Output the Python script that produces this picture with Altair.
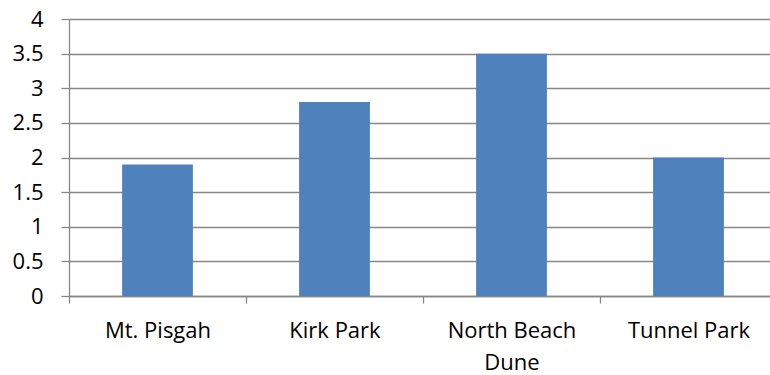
import altair as alt
import pandas as pd

sites = ["Mt. Pisgah", "Kirk Park", "North Beach Dune", "Tunnel Park"]
values = [1.9, 2.8, 3.5, 2.0]
y_ticks = [0, 0.5, 1, 1.5, 2, 2.5, 3, 3.5, 4]

df = pd.DataFrame({"site": sites, "value": values})

FONT = "Open Sans"
GRAY = "#878787"

chart = alt.Chart(df).mark_bar(
    color="#4F81BD", width=alt.RelativeBandSize(0.4)
).encode(
    x=alt.X(
        "site:N",
        sort=sites,
        scale=alt.Scale(paddingInner=0, paddingOuter=0, range=[0, 708]),
        axis=alt.Axis(
            title=None,
            labelAngle=0,
            tickBand="extent",
            tickSize=7,
            tickColor=GRAY,
            tickWidth=1.3,
            domainColor=GRAY,
            domainWidth=1.3,
            labelFont=FONT,
            labelFontSize=22,
            labelColor="#000000",
            labelPadding=17,
            labelLineHeight=32,
            labelExpr="datum.label == 'North Beach Dune' ? ['North Beach', 'Dune'] : datum.label",
            labelLimit=300,
        ),
    ),
    y=alt.Y(
        "value:Q",
        scale=alt.Scale(domain=[0, 4], nice=False),
        axis=alt.Axis(
            title=None,
            values=y_ticks,
            format=".1~f",
            tickSize=8,
            tickColor=GRAY,
            tickWidth=1.3,
            domainColor=GRAY,
            domainWidth=1.3,
            gridColor=GRAY,
            gridWidth=1.3,
            grid=True,
            labelFont=FONT,
            labelFontSize=22,
            labelColor="#000000",
            labelPadding=18,
        ),
    ),
).properties(
    width=701,
    height=277,
    autosize=alt.AutoSizeParams(type="none"),
    padding={"left": 69, "top": 19, "right": 0, "bottom": 79},
).configure_view(stroke=None)

chart.save("out.html", embed_options={"renderer": "svg", "actions": False})
